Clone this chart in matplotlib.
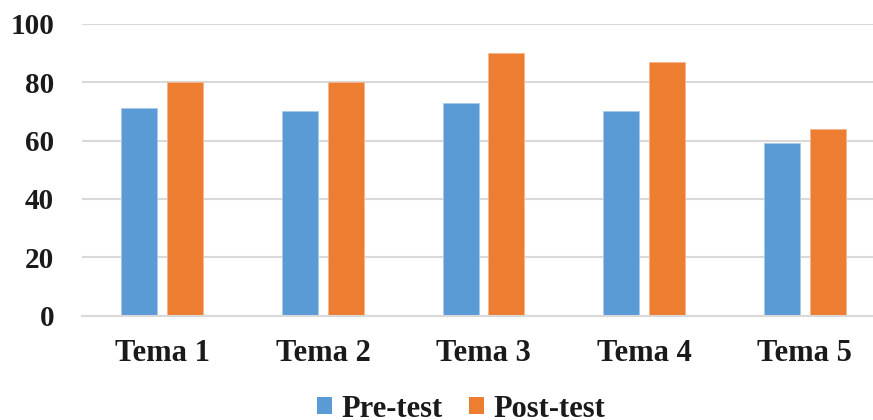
import numpy as np
import matplotlib
matplotlib.use("Agg")
import matplotlib.pyplot as plt
from matplotlib.patches import Patch

categories = ["Tema 1", "Tema 2", "Tema 3", "Tema 4", "Tema 5"]
pre_test = [71, 70, 73, 70, 59]
post_test = [80, 80, 90, 87, 64]
y_ticks = [0, 20, 40, 60, 80, 100]

blue = "#5B9BD5"
orange = "#ED7D31"
text_color = "#1a1a1a"

plt.rcParams["font.family"] = ["Liberation Serif", "DejaVu Serif"]
plt.rcParams["font.weight"] = "bold"

fig = plt.figure(figsize=(8.73, 4.2), dpi=100)
# plot area: x from 82px to right edge, y from 23.7px to 315.7px
ax = fig.add_axes([82 / 873, 1 - 315.7 / 420, 1 - 82 / 873, (315.7 - 23.7) / 420])

x = np.arange(len(categories))
w = 0.224
off = 0.143
ax.bar(x - off, pre_test, w, color=blue, edgecolor="#a9c9ea", linewidth=0.6, zorder=3)
ax.bar(x + off, post_test, w, color=orange, edgecolor="#f4b48e", linewidth=0.6, zorder=3)

ax.set_xlim(-0.5, -0.5 + 791 / 160.6)
ax.set_ylim(0, 100)
ax.set_yticks(y_ticks)
ax.set_xticks(x)
ax.set_xticklabels(categories)
ax.yaxis.grid(True, color="#d9d9d9", linewidth=1.5, zorder=0)
ax.set_axisbelow(True)
for s in ax.spines.values():
    s.set_visible(False)
ax.tick_params(axis="both", length=0, colors=text_color)
ax.tick_params(axis="y", labelsize=21, pad=20)
ax.tick_params(axis="x", labelsize=22, pad=17)
for lbl in ax.get_xticklabels() + ax.get_yticklabels():
    lbl.set_fontweight("bold")
ax.patch.set_alpha(0)
# the 0 line drawn on top of bar bottoms
ax.axhline(0, color="#d9d9d9", linewidth=1.5, zorder=4, clip_on=False)

handles = [Patch(facecolor=blue, label="Pre-test"), Patch(facecolor=orange, label="Post-test")]
leg = fig.legend(handles=handles, loc="center", bbox_to_anchor=(0.528, 0.026), ncol=2,
                 frameon=False, fontsize=22, handlelength=0.5, handleheight=0.5,
                 handletextpad=0.3, columnspacing=0.87, borderpad=0, borderaxespad=0)
for t in leg.get_texts():
    t.set_fontweight("bold")
    t.set_color(text_color)

fig.savefig("out.png", dpi=100)
